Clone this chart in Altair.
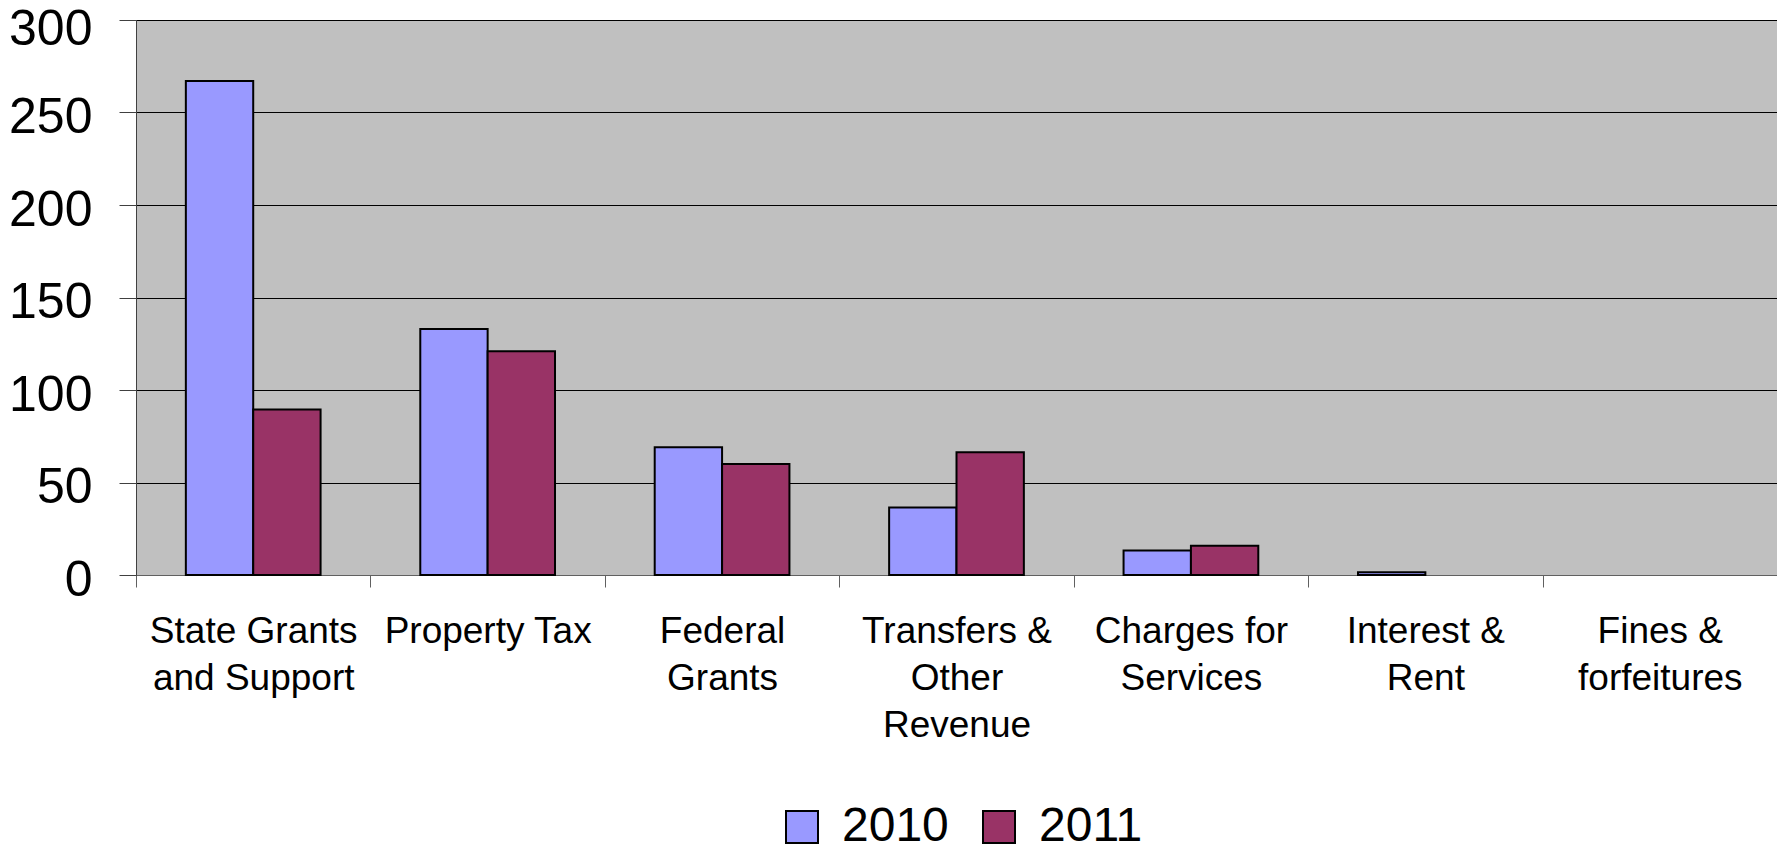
import altair as alt
import pandas as pd

categories = [
    "State Grants|and Support",
    "Property Tax",
    "Federal|Grants",
    "Transfers &|Other|Revenue",
    "Charges for|Services",
    "Interest &|Rent",
    "Fines &|forfeitures",
]
years = ["2010", "2011"]
values_2010 = [267, 133, 69, 36.5, 13.3, 1.5, 0]
values_2011 = [89.5, 121, 60, 66.3, 15.8, 0, 0]
y_ticks = [0, 50, 100, 150, 200, 250, 300]
colors = ["#9999FF", "#993366"]

rows = []
for c, a, b in zip(categories, values_2010, values_2011):
    rows.append({"category": c, "year": years[0], "value": a})
    rows.append({"category": c, "year": years[1], "value": b})
df = pd.DataFrame(rows)

FONT = "Liberation Sans"

bars = (
    alt.Chart(df)
    .transform_filter("datum.value > 0")
    .mark_bar(stroke="black", strokeWidth=2, opacity=1)
    .encode(
        x=alt.X(
            "category:N",
            sort=categories,
            scale=alt.Scale(domain=categories, paddingInner=0, paddingOuter=0),
            axis=alt.Axis(
                title=None,
                labelAngle=0,
                labelExpr="split(datum.label, '|')",
                labelFont=FONT,
                labelFontSize=37,
                labelLineHeight=47,
                labelColor="black",
                labelLimit=400,
                labelPadding=26,
                labelBaseline="top",
                tickBand="extent",
                tickSize=12,
                tickColor="#606060",
                tickWidth=1,
                domainColor="#606060",
                domainWidth=1,
                grid=False,
            ),
        ),
        xOffset=alt.XOffset(
            "year:N",
            scale=alt.Scale(domain=years, paddingInner=0, paddingOuter=0.74),
        ),
        y=alt.Y(
            "value:Q",
            scale=alt.Scale(domain=[0, 300], nice=False),
            axis=alt.Axis(
                title=None,
                values=y_ticks,
                labelFont=FONT,
                labelFontSize=50,
                labelColor="black",
                labelPadding=27,
                labelOffset={"condition": {"test": "datum.value >= 300", "value": 9.5}, "value": 5},
                tickSize=17,
                tickColor="#404040",
                domainColor="#404040",
                grid=True,
                gridColor="black",
                gridWidth=1,
                gridOpacity=1,
            ),
        ),
        color=alt.Color(
            "year:N",
            scale=alt.Scale(domain=years, range=colors),
            legend=alt.Legend(
                title=None,
                orient="none",
                legendX=642,
                legendY=783,
                direction="horizontal",
                symbolType="square",
                symbolSize=1024,
                symbolStrokeColor="black",
                symbolStrokeWidth=2,
                symbolOpacity=1,
                labelFont=FONT,
                labelFontSize=48,
                labelColor="black",
                labelOffset=16,
                columnPadding=26,
                padding=0,
            ),
        ),
    )
)

chart = (
    bars.properties(
        width=1641,
        height=555,
        padding={"left": 128, "top": 12, "right": 0, "bottom": 274},
        autosize=alt.AutoSizeParams(type="none"),
        background="white",
    )
    .configure_view(fill="#C0C0C0", stroke="#808080", strokeWidth=1)
)

chart.save("out.html", embed_options={"renderer": "svg", "actions": False})
